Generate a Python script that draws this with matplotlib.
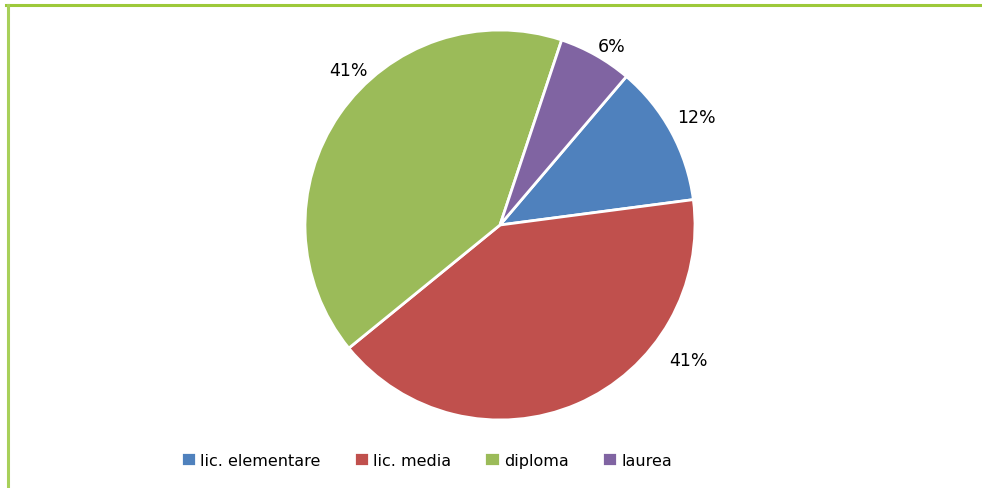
import matplotlib
matplotlib.use('Agg')
import matplotlib.pyplot as plt
import numpy as np

# data
categories = ['lic. elementare', 'lic. media', 'diploma', 'laurea']
shares = [11.7, 41.2, 41.0, 6.1]
colors = ['#4f81bd', '#c0504d', '#9bbb59', '#8064a2']

# label placement (distance in radii, angle in degrees) - excel "best fit"
label_pos = [(1.15, 28.7), (1.19, -35.7), (1.11, 134.4), (1.08, 58.0)]

plt.rcParams['font.family'] = ['DejaVu Sans']

fig = plt.figure(figsize=(9.82, 4.89), dpi=100)

# green frame lines (top + left)
fig.add_artist(plt.Line2D([6 / 982, 1], [1 - 6 / 489, 1 - 6 / 489],
                          color='#9dc93a', lw=2.2, transform=fig.transFigure))
fig.add_artist(plt.Line2D([8 / 982, 8 / 982], [0, 1 - 6 / 489],
                          color='#a8d05a', lw=2.2, transform=fig.transFigure))

ax = fig.add_axes([(500 - 195) / 982, (489 - 421) / 489, 390 / 982, 390 / 489])
wedges, _ = ax.pie(shares, colors=colors, startangle=49.6, counterclock=False,
                   wedgeprops=dict(edgecolor='white', linewidth=2))
ax.set_xlim(-1, 1)
ax.set_ylim(-1, 1)
ax.set_aspect('equal')
ax.axis('off')

for v, (d, a) in zip(shares, label_pos):
    ax.text(d * np.cos(np.radians(a)), d * np.sin(np.radians(a)), '%d%%' % round(v),
            ha='center', va='center', fontsize=12.5, color='black')

fig.legend(wedges, categories, loc='center', bbox_to_anchor=(0.434, 0.057),
           ncol=4, frameon=False, fontsize=11.5, handlelength=0.95, handleheight=0.95,
           handletextpad=0.25, columnspacing=2.1)

plt.savefig('out.png', dpi=100)
